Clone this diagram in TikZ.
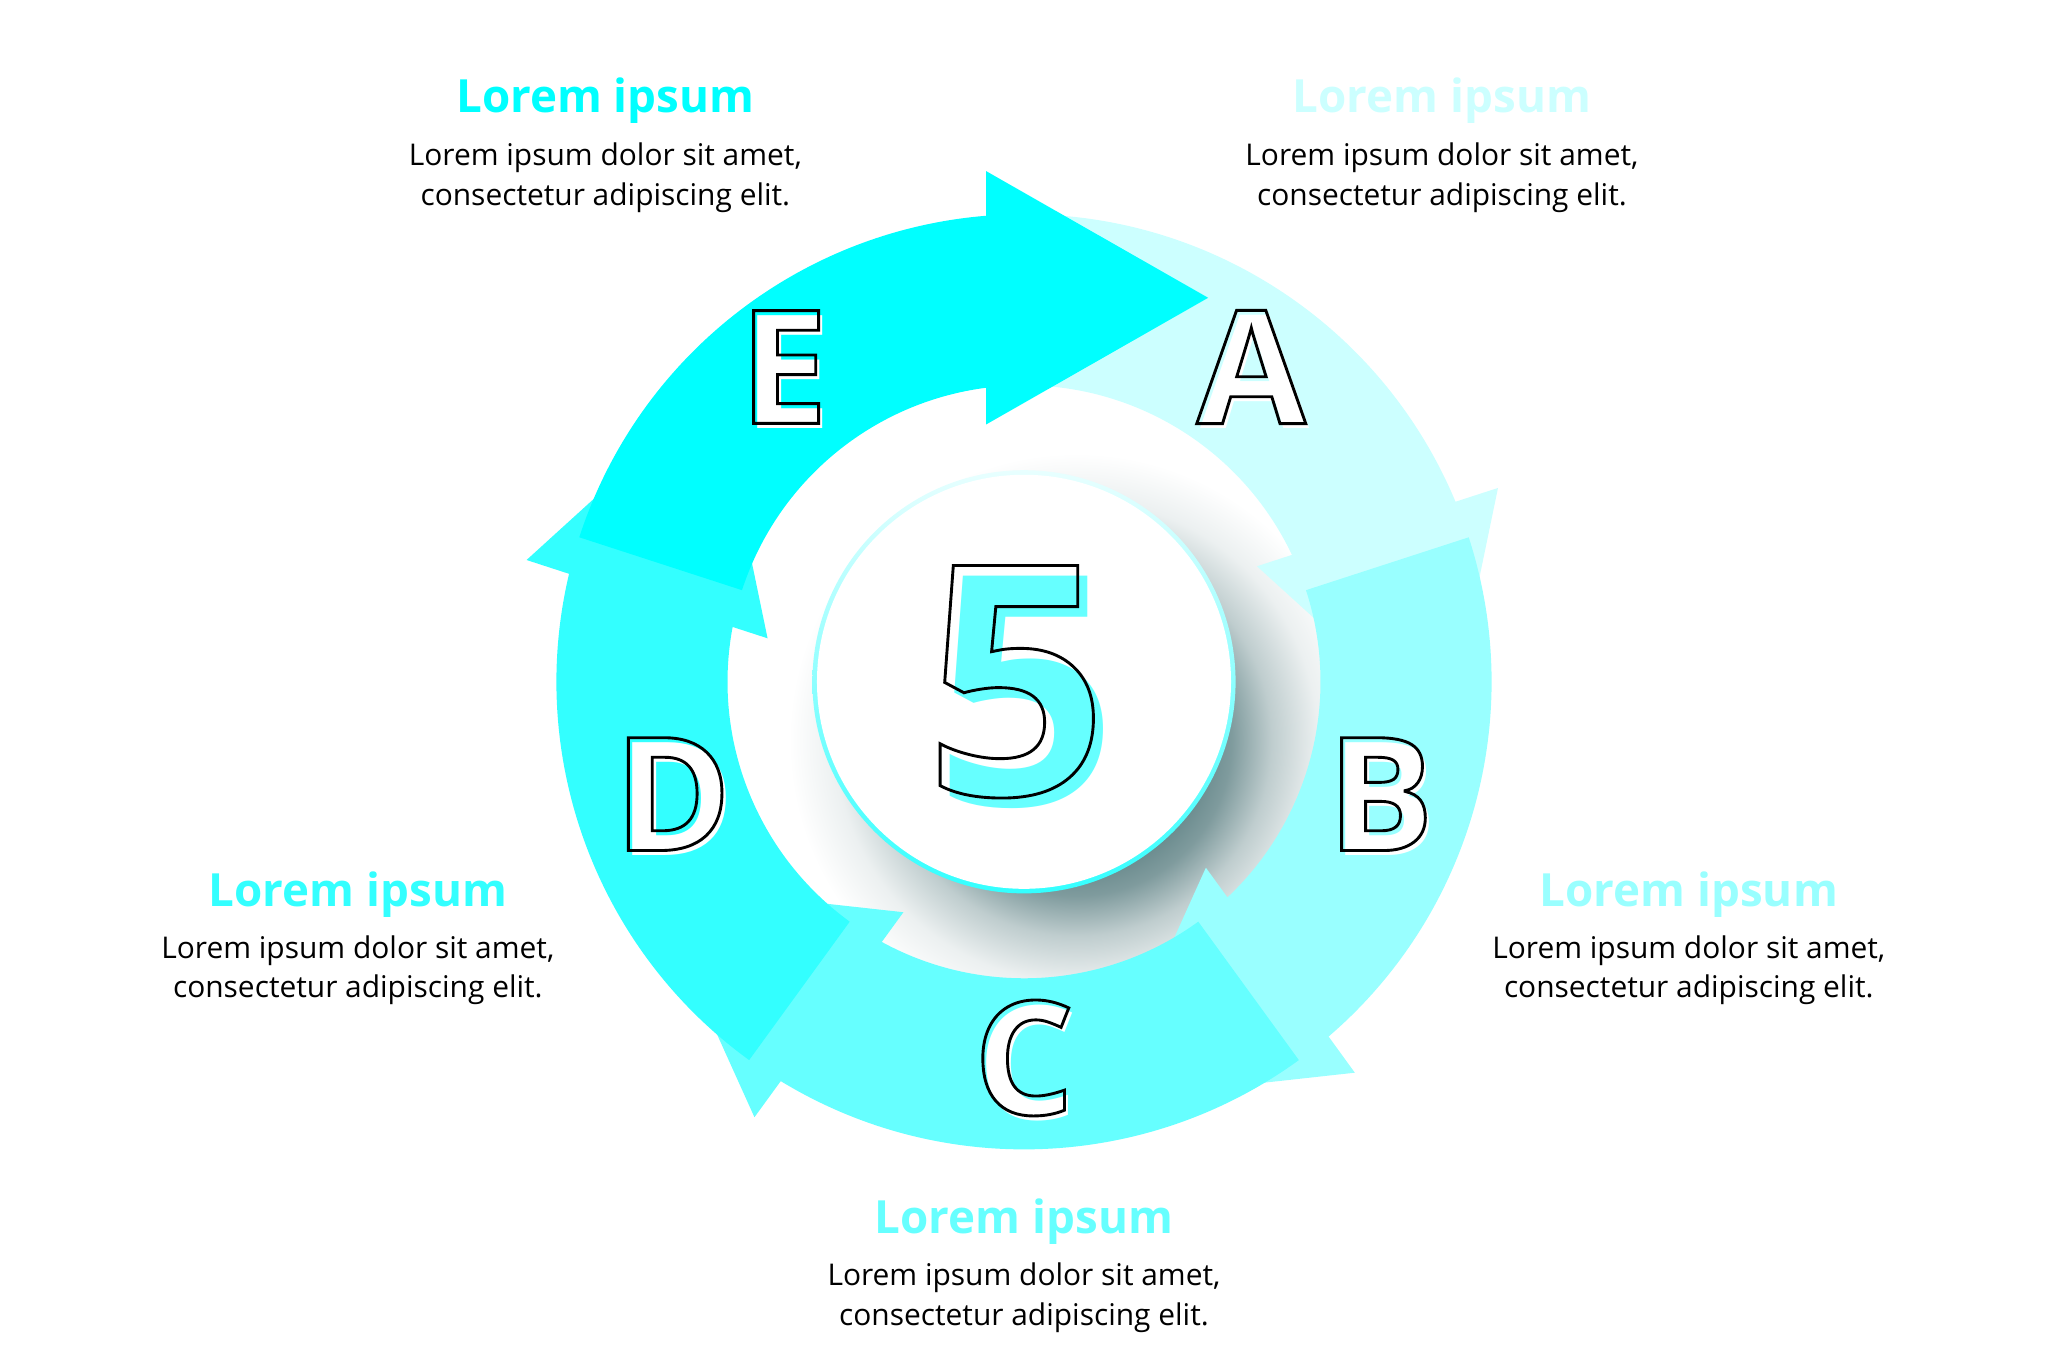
\documentclass[tikz,border=0pt]{standalone}
\usepackage{fontspec}
\setmainfont{Open Sans}
\definecolor{cE}{HTML}{00FFFF}
\definecolor{cA}{HTML}{CCFFFF}
\definecolor{cB}{HTML}{99FFFF}
\definecolor{cC}{HTML}{66FFFF}
\definecolor{cD}{HTML}{33FFFF}
\definecolor{shd}{RGB}{95,130,133}
\definecolor{rimlight}{HTML}{E8FFFF}
\definecolor{rimdark}{HTML}{33FFFF}
\pgfdeclareradialshading{csh}{\pgfpoint{0bp}{0bp}}{color(0bp)=(shd); color(10bp)=(shd); color(13.5bp)=(shd!80!white); color(17bp)=(shd!40!white); color(21bp)=(shd!12!white); color(25bp)=(white); color(50bp)=(white)}
\newcommand{\strokeglyph}[1]{\special{pdf:literal direct 1 Tr 2.2 w}#1\special{pdf:literal direct 0 Tr}}
\tikzset{
  ttl/.style={anchor=base, inner sep=0pt, font=\fontsize{35}{35}\selectfont\bfseries},
  bodytxt/.style={anchor=base, inner sep=0pt, text=black, font=\fontsize{22.9}{22.9}\selectfont},
  lfill/.style={inner sep=0pt, text=white, font=\fontsize{121}{121}\selectfont\bfseries},
  lline/.style={inner sep=0pt, text=black, font=\fontsize{121}{121}\selectfont\bfseries},
  dfill/.style={inner sep=0pt, text=cC, font=\fontsize{246}{246}\selectfont\bfseries},
  dline/.style={inner sep=0pt, text=black, font=\fontsize{246}{246}\selectfont\bfseries}
}
\begin{document}
\begin{tikzpicture}[x=1pt,y=1pt]
\useasboundingbox (-784,-524) rectangle (784,522);
\fill[white] (-784,-524) rectangle (784,522);
% shadow of the centre disc
\shade[shading=csh] (40,-45) circle (220);
% five arrow segments (A lowest, E on top)
\foreach \ang/\col in {-72/cA,-144/cB,-216/cC,-288/cD,0/cE}{
  \fill[\col, rotate=\ang] (162:358) arc[start angle=162, end angle=94.65, radius=358]
    -- (-29,391) -- (141,294) -- (-29,197) -- (97.34:227)
    arc[start angle=97.34, end angle=162, radius=227] -- cycle;
}
% centre disc
\shade[shading angle=45, top color=rimlight, bottom color=rimdark] (0,0) circle (162);
\fill[white] (0,0) circle (158.5);
% big digit
\node[dfill] (fivefill) at (2,-8) {5};
\node[dline] (five) at (-6,0) {\strokeglyph{5}};
% letters
\node[lfill] (Ef) at (-181,237) {E};
\node[lline] (E) at (-184,241) {\strokeglyph{E}};
\node[lfill] (Af) at (177,237) {A};
\node[lline] (A) at (174,241) {\strokeglyph{A}};
\node[lfill] (Bf) at (276,-90) {B};
\node[lline] (B) at (273,-86) {\strokeglyph{B}};
\node[lfill] (Cf) at (3,-292) {C};
\node[lline] (C) at (0,-288) {\strokeglyph{C}};
\node[lfill] (Df) at (-266,-90) {D};
\node[lline] (D) at (-269,-86) {\strokeglyph{D}};
% text blocks
\node[ttl, text=cE] (tE) at (-320.5,435.7) {Lorem ipsum};
\node[bodytxt] (tE1) at (-320.5,395.6) {Lorem ipsum dolor sit amet,};
\node[bodytxt] (tE2) at (-320.5,364.6) {consectetur adipiscing elit.};
\node[ttl, text=cA] (tA) at (320,435.7) {Lorem ipsum};
\node[bodytxt] (tA1) at (320,395.6) {Lorem ipsum dolor sit amet,};
\node[bodytxt] (tA2) at (320,364.6) {consectetur adipiscing elit.};
\node[ttl, text=cB] (tB) at (509,-172.2) {Lorem ipsum};
\node[bodytxt] (tB1) at (509,-211.8) {Lorem ipsum dolor sit amet,};
\node[bodytxt] (tB2) at (509,-242) {consectetur adipiscing elit.};
\node[ttl, text=cC] (tC) at (0,-422.3) {Lorem ipsum};
\node[bodytxt] (tC1) at (0,-461.9) {Lorem ipsum dolor sit amet,};
\node[bodytxt] (tC2) at (0,-492.5) {consectetur adipiscing elit.};
\node[ttl, text=cD] (tD) at (-510,-172.2) {Lorem ipsum};
\node[bodytxt] (tD1) at (-510,-211.8) {Lorem ipsum dolor sit amet,};
\node[bodytxt] (tD2) at (-510,-242) {consectetur adipiscing elit.};
\end{tikzpicture}
\end{document}
